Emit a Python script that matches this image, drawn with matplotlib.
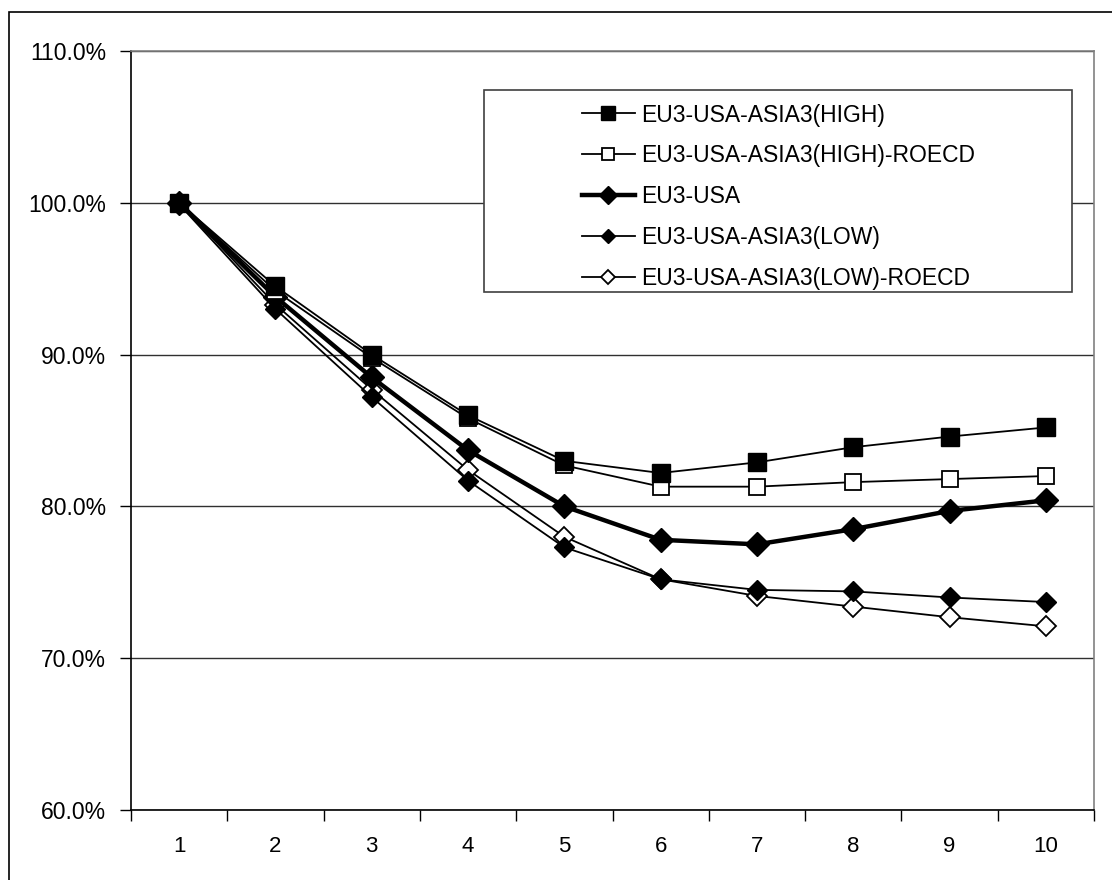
import numpy as np
import matplotlib
matplotlib.use('Agg')
import matplotlib.pyplot as plt
from matplotlib.patches import Rectangle
from matplotlib.ticker import FixedLocator, FuncFormatter

plt.rcParams['font.family'] = ['Liberation Sans', 'DejaVu Sans']

# datos
periodos = [1, 2, 3, 4, 5, 6, 7, 8, 9, 10]
high = [100.0, 94.5, 90.0, 86.0, 83.0, 82.2, 82.9, 83.9, 84.6, 85.2]
high_roecd = [100.0, 94.2, 89.8, 85.8, 82.7, 81.3, 81.3, 81.6, 81.8, 82.0]
eu3_usa = [100.0, 93.8, 88.5, 83.7, 80.0, 77.8, 77.5, 78.5, 79.7, 80.4]
low = [99.9, 93.0, 87.2, 81.7, 77.3, 75.2, 74.5, 74.4, 74.0, 73.7]
low_roecd = [100.0, 93.3, 87.7, 82.4, 78.0, 75.2, 74.1, 73.4, 72.7, 72.1]

etiquetas = ['EU3-USA-ASIA3(HIGH)', 'EU3-USA-ASIA3(HIGH)-ROECD', 'EU3-USA',
             'EU3-USA-ASIA3(LOW)', 'EU3-USA-ASIA3(LOW)-ROECD']

W, H = 1112, 880
fig = plt.figure(figsize=(W / 100, H / 100), dpi=100)
ax = fig.add_axes([131 / W, 1 - 810 / H, (1094 - 131) / W, (810 - 51) / H])

# las primeras series quedan encima
ax.plot(periodos, high, color='black', lw=1.3, marker='s', ms=13,
        mfc='black', mec='black', zorder=10, label=etiquetas[0])
ax.plot(periodos, high_roecd, color='black', lw=1.3, marker='s', ms=12,
        mfc='white', mec='black', mew=1.3, zorder=9, label=etiquetas[1])
ax.plot(periodos, eu3_usa, color='black', lw=3.2, marker='D', ms=12,
        mfc='black', mec='black', zorder=8, label=etiquetas[2])
ax.plot(periodos, low, color='black', lw=1.3, marker='D', ms=10,
        mfc='black', mec='black', zorder=7, label=etiquetas[3])
ax.plot(periodos, low_roecd, color='black', lw=1.3, marker='D', ms=10,
        mfc='white', mec='black', mew=1.3, zorder=6, label=etiquetas[4])

ax.set_xlim(0.5, 10.5)
ax.set_ylim(60, 110)
ax.set_yticks([60, 70, 80, 90, 100, 110])
ax.yaxis.set_major_formatter(FuncFormatter(lambda v, p: f'{v:.1f}%'))
ax.set_xticks(periodos)
ax.set_xticklabels([str(p) for p in periodos])
ax.xaxis.set_minor_locator(FixedLocator(np.arange(0.5, 11, 1.0)))
ax.tick_params(axis='x', which='major', length=0, pad=19, labelsize=16)
ax.tick_params(axis='x', which='minor', length=8, width=1, direction='out')
ax.tick_params(axis='y', length=8, width=1, direction='out', pad=10, labelsize=16.5)

ax.yaxis.grid(True, color='#303030', lw=1)
ax.set_axisbelow(True)
for lado in ['left', 'bottom']:
    ax.spines[lado].set_color('black')
    ax.spines[lado].set_linewidth(1.2)
for lado in ['top', 'right']:
    ax.spines[lado].set_color('#808080')
    ax.spines[lado].set_linewidth(1.2)

# caja de la leyenda
fig.patches.append(Rectangle((484 / W, 1 - 292 / H), (1072 - 484) / W, (292 - 90) / H,
                             transform=fig.transFigure, facecolor='white',
                             edgecolor='#404040', lw=1.2, zorder=20))
leg = fig.legend(loc='upper left', bbox_to_anchor=(582 / W, 1 - 103.5 / H),
                 frameon=False, fontsize=16.5, markerscale=0.75, handlelength=2.3,
                 handletextpad=0.26, labelspacing=0.78, borderpad=0, borderaxespad=0)
leg.set_zorder(21)

# marco exterior
fig.patches.append(Rectangle((9 / W, -0.01), 1.0, 1 - 12 / H + 0.01,
                             transform=fig.transFigure, fill=False,
                             edgecolor='black', lw=1.2))

plt.savefig('out.png', dpi=100)
